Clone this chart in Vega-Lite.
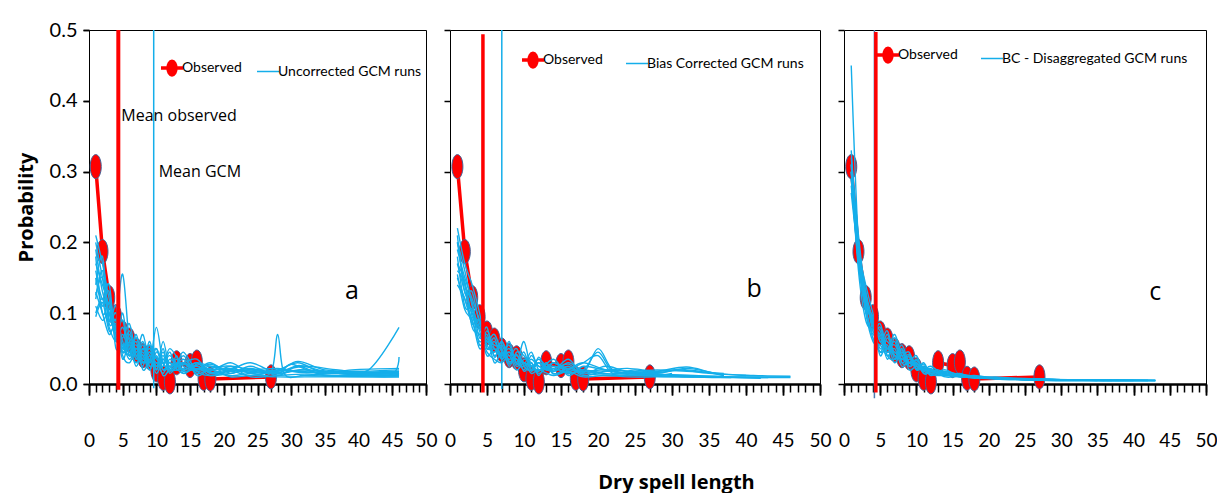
{
  "$schema": "https://vega.github.io/schema/vega-lite/v6.json",
  "padding": {"left": 15, "top": 19, "right": 0, "bottom": 0},
  "background": "white",
  "config": {
    "view": {"stroke": "black", "strokeWidth": 1},
    "axis": {"grid": false, "domainColor": "black", "tickColor": "black", "labelColor": "black", "titleColor": "black", "tickWidth": 1.5, "zindex": 1},
    "legend": {"labelColor": "black", "labelLimit": 600}
  },
  "datasets": {
    "means": [
      {"p": "a", "obs": 4.35, "gcm": 9.6, "tag": "a", "tx": 39, "ty": 0.131},
      {"p": "b", "obs": 4.45, "gcm": 7.0, "tag": "b", "tx": 41.1, "ty": 0.134},
      {"p": "c", "obs": 4.4, "gcm": 4.2, "tag": "c", "tx": 43.0, "ty": 0.13}
    ],
    "obs": [
      {"x": 1, "y": 0.307}, {"x": 2, "y": 0.187}, {"x": 3, "y": 0.122}, {"x": 4, "y": 0.095},
      {"x": 5, "y": 0.072}, {"x": 6, "y": 0.062}, {"x": 7, "y": 0.048}, {"x": 8, "y": 0.04},
      {"x": 9, "y": 0.037}, {"x": 10, "y": 0.02}, {"x": 11, "y": 0.008}, {"x": 12, "y": 0.003},
      {"x": 13, "y": 0.03}, {"x": 15, "y": 0.026}, {"x": 16, "y": 0.031}, {"x": 17, "y": 0.008},
      {"x": 18, "y": 0.007}, {"x": 27, "y": 0.01}
    ],
    "ga": [
      {"r":1,"x":1,"y":0.21},{"r":1,"x":2,"y":0.17},{"r":1,"x":3,"y":0.12},{"r":1,"x":4,"y":0.09},{"r":1,"x":5,"y":0.155},{"r":1,"x":6,"y":0.06},{"r":1,"x":7,"y":0.05},{"r":1,"x":8,"y":0.04},{"r":1,"x":9,"y":0.045},{"r":1,"x":10,"y":0.03},{"r":1,"x":11,"y":0.035},{"r":1,"x":12,"y":0.025},{"r":1,"x":14,"y":0.03},{"r":1,"x":16,"y":0.02},{"r":1,"x":18,"y":0.025},{"r":1,"x":21,"y":0.02},{"r":1,"x":24,"y":0.018},{"r":1,"x":28,"y":0.015},{"r":1,"x":32,"y":0.02},{"r":1,"x":37,"y":0.015},{"r":1,"x":42,"y":0.012},{"r":1,"x":46,"y":0.012},
      {"r":2,"x":1,"y":0.19},{"r":2,"x":2,"y":0.13},{"r":2,"x":3,"y":0.1},{"r":2,"x":4,"y":0.07},{"r":2,"x":5,"y":0.05},{"r":2,"x":6,"y":0.075},{"r":2,"x":7,"y":0.04},{"r":2,"x":8,"y":0.06},{"r":2,"x":9,"y":0.03},{"r":2,"x":10,"y":0.08},{"r":2,"x":11,"y":0.03},{"r":2,"x":12,"y":0.04},{"r":2,"x":14,"y":0.02},{"r":2,"x":16,"y":0.03},{"r":2,"x":18,"y":0.015},{"r":2,"x":21,"y":0.025},{"r":2,"x":24,"y":0.02},{"r":2,"x":28,"y":0.018},{"r":2,"x":32,"y":0.025},{"r":2,"x":37,"y":0.02},{"r":2,"x":41.5,"y":0.02},{"r":2,"x":46,"y":0.08},
      {"r":3,"x":1,"y":0.12},{"r":3,"x":2,"y":0.16},{"r":3,"x":3,"y":0.09},{"r":3,"x":4,"y":0.1},{"r":3,"x":5,"y":0.06},{"r":3,"x":6,"y":0.04},{"r":3,"x":7,"y":0.065},{"r":3,"x":8,"y":0.035},{"r":3,"x":9,"y":0.05},{"r":3,"x":10,"y":0.025},{"r":3,"x":11,"y":0.045},{"r":3,"x":12,"y":0.02},{"r":3,"x":14,"y":0.035},{"r":3,"x":16,"y":0.015},{"r":3,"x":18,"y":0.02},{"r":3,"x":21,"y":0.012},{"r":3,"x":24,"y":0.015},{"r":3,"x":27,"y":0.016},{"r":3,"x":28,"y":0.07},{"r":3,"x":29,"y":0.014},{"r":3,"x":32,"y":0.012},{"r":3,"x":37,"y":0.011},{"r":3,"x":42,"y":0.01},{"r":3,"x":46,"y":0.01},
      {"r":4,"x":1,"y":0.1},{"r":4,"x":2,"y":0.12},{"r":4,"x":3,"y":0.08},{"r":4,"x":4,"y":0.06},{"r":4,"x":5,"y":0.08},{"r":4,"x":6,"y":0.05},{"r":4,"x":7,"y":0.03},{"r":4,"x":8,"y":0.045},{"r":4,"x":9,"y":0.02},{"r":4,"x":10,"y":0.04},{"r":4,"x":11,"y":0.02},{"r":4,"x":12,"y":0.03},{"r":4,"x":14,"y":0.015},{"r":4,"x":16,"y":0.025},{"r":4,"x":18,"y":0.012},{"r":4,"x":21,"y":0.018},{"r":4,"x":24,"y":0.012},{"r":4,"x":28,"y":0.02},{"r":4,"x":31,"y":0.03},{"r":4,"x":34,"y":0.018},{"r":4,"x":37,"y":0.015},{"r":4,"x":42,"y":0.015},{"r":4,"x":46,"y":0.015},
      {"r":5,"x":1,"y":0.15},{"r":5,"x":2,"y":0.11},{"r":5,"x":3,"y":0.13},{"r":5,"x":4,"y":0.05},{"r":5,"x":5,"y":0.07},{"r":5,"x":6,"y":0.045},{"r":5,"x":7,"y":0.055},{"r":5,"x":8,"y":0.03},{"r":5,"x":9,"y":0.04},{"r":5,"x":10,"y":0.035},{"r":5,"x":11,"y":0.025},{"r":5,"x":12,"y":0.05},{"r":5,"x":14,"y":0.025},{"r":5,"x":16,"y":0.02},{"r":5,"x":18,"y":0.03},{"r":5,"x":21,"y":0.015},{"r":5,"x":24,"y":0.025},{"r":5,"x":28,"y":0.012},{"r":5,"x":31,"y":0.025},{"r":5,"x":35,"y":0.012},{"r":5,"x":40,"y":0.012},{"r":5,"x":45,"y":0.014},{"r":5,"x":46,"y":0.038},
      {"r":6,"x":1,"y":0.2},{"r":6,"x":2,"y":0.15},{"r":6,"x":3,"y":0.1},{"r":6,"x":4,"y":0.08},{"r":6,"x":5,"y":0.045},{"r":6,"x":6,"y":0.065},{"r":6,"x":7,"y":0.035},{"r":6,"x":8,"y":0.05},{"r":6,"x":9,"y":0.025},{"r":6,"x":10,"y":0.03},{"r":6,"x":11,"y":0.015},{"r":6,"x":12,"y":0.035},{"r":6,"x":14,"y":0.018},{"r":6,"x":16,"y":0.022},{"r":6,"x":18,"y":0.018},{"r":6,"x":21,"y":0.03},{"r":6,"x":24,"y":0.015},{"r":6,"x":28,"y":0.018},{"r":6,"x":31,"y":0.032},{"r":6,"x":35,"y":0.02},{"r":6,"x":40,"y":0.018},{"r":6,"x":46,"y":0.02},
      {"r":7,"x":1,"y":0.13},{"r":7,"x":2,"y":0.1},{"r":7,"x":3,"y":0.07},{"r":7,"x":4,"y":0.085},{"r":7,"x":5,"y":0.04},{"r":7,"x":6,"y":0.03},{"r":7,"x":7,"y":0.045},{"r":7,"x":8,"y":0.025},{"r":7,"x":9,"y":0.06},{"r":7,"x":10,"y":0.02},{"r":7,"x":11,"y":0.05},{"r":7,"x":12,"y":0.015},{"r":7,"x":14,"y":0.04},{"r":7,"x":16,"y":0.012},{"r":7,"x":18,"y":0.02},{"r":7,"x":21,"y":0.01},{"r":7,"x":24,"y":0.012},{"r":7,"x":28,"y":0.01},{"r":7,"x":32,"y":0.01},{"r":7,"x":37,"y":0.01},{"r":7,"x":42,"y":0.01},{"r":7,"x":46,"y":0.01},
      {"r":8,"x":1,"y":0.17},{"r":8,"x":2,"y":0.14},{"r":8,"x":3,"y":0.11},{"r":8,"x":4,"y":0.07},{"r":8,"x":5,"y":0.09},{"r":8,"x":6,"y":0.04},{"r":8,"x":7,"y":0.06},{"r":8,"x":8,"y":0.02},{"r":8,"x":9,"y":0.035},{"r":8,"x":10,"y":0.05},{"r":8,"x":11,"y":0.02},{"r":8,"x":12,"y":0.025},{"r":8,"x":14,"y":0.03},{"r":8,"x":16,"y":0.035},{"r":8,"x":18,"y":0.015},{"r":8,"x":21,"y":0.02},{"r":8,"x":24,"y":0.03},{"r":8,"x":28,"y":0.015},{"r":8,"x":30,"y":0.028},{"r":8,"x":34,"y":0.015},{"r":8,"x":39,"y":0.02},{"r":8,"x":46,"y":0.022},
      {"r":9,"x":1,"y":0.14},{"r":9,"x":2,"y":0.18},{"r":9,"x":3,"y":0.09},{"r":9,"x":4,"y":0.11},{"r":9,"x":5,"y":0.05},{"r":9,"x":6,"y":0.07},{"r":9,"x":7,"y":0.04},{"r":9,"x":8,"y":0.03},{"r":9,"x":9,"y":0.045},{"r":9,"x":10,"y":0.025},{"r":9,"x":11,"y":0.04},{"r":9,"x":12,"y":0.02},{"r":9,"x":14,"y":0.022},{"r":9,"x":16,"y":0.03},{"r":9,"x":18,"y":0.025},{"r":9,"x":21,"y":0.02},{"r":9,"x":24,"y":0.02},{"r":9,"x":28,"y":0.022},{"r":9,"x":31,"y":0.018},{"r":9,"x":36,"y":0.015},{"r":9,"x":41,"y":0.014},{"r":9,"x":46,"y":0.014},
      {"r":10,"x":1,"y":0.11},{"r":10,"x":2,"y":0.09},{"r":10,"x":3,"y":0.1},{"r":10,"x":4,"y":0.065},{"r":10,"x":5,"y":0.055},{"r":10,"x":6,"y":0.035},{"r":10,"x":7,"y":0.05},{"r":10,"x":8,"y":0.04},{"r":10,"x":9,"y":0.02},{"r":10,"x":10,"y":0.045},{"r":10,"x":11,"y":0.03},{"r":10,"x":12,"y":0.018},{"r":10,"x":14,"y":0.028},{"r":10,"x":16,"y":0.018},{"r":10,"x":18,"y":0.022},{"r":10,"x":21,"y":0.025},{"r":10,"x":24,"y":0.01},{"r":10,"x":28,"y":0.012},{"r":10,"x":32,"y":0.014},{"r":10,"x":37,"y":0.012},{"r":10,"x":42,"y":0.012},{"r":10,"x":46,"y":0.012},
      {"r":11,"x":1,"y":0.16},{"r":11,"x":2,"y":0.12},{"r":11,"x":3,"y":0.14},{"r":11,"x":4,"y":0.06},{"r":11,"x":5,"y":0.1},{"r":11,"x":6,"y":0.04},{"r":11,"x":7,"y":0.07},{"r":11,"x":8,"y":0.03},{"r":11,"x":9,"y":0.055},{"r":11,"x":10,"y":0.02},{"r":11,"x":11,"y":0.06},{"r":11,"x":12,"y":0.02},{"r":11,"x":13,"y":0.04},{"r":11,"x":14,"y":0.015},{"r":11,"x":16,"y":0.028},{"r":11,"x":18,"y":0.02},{"r":11,"x":21,"y":0.022},{"r":11,"x":24,"y":0.016},{"r":11,"x":28,"y":0.02},{"r":11,"x":32,"y":0.016},{"r":11,"x":37,"y":0.018},{"r":11,"x":42,"y":0.016},{"r":11,"x":46,"y":0.016},
      {"r":12,"x":1,"y":0.18},{"r":12,"x":2,"y":0.1},{"r":12,"x":3,"y":0.115},{"r":12,"x":4,"y":0.075},{"r":12,"x":5,"y":0.065},{"r":12,"x":6,"y":0.085},{"r":12,"x":7,"y":0.045},{"r":12,"x":8,"y":0.07},{"r":12,"x":9,"y":0.03},{"r":12,"x":10,"y":0.05},{"r":12,"x":11,"y":0.028},{"r":12,"x":12,"y":0.045},{"r":12,"x":13,"y":0.02},{"r":12,"x":14,"y":0.03},{"r":12,"x":16,"y":0.02},{"r":12,"x":18,"y":0.028},{"r":12,"x":21,"y":0.018},{"r":12,"x":24,"y":0.022},{"r":12,"x":28,"y":0.014},{"r":12,"x":31,"y":0.02},{"r":12,"x":36,"y":0.017},{"r":12,"x":41,"y":0.015},{"r":12,"x":46,"y":0.015},
      {"r":13,"x":1,"y":0.125},{"r":13,"x":2,"y":0.15},{"r":13,"x":3,"y":0.085},{"r":13,"x":4,"y":0.09},{"r":13,"x":5,"y":0.045},{"r":13,"x":6,"y":0.055},{"r":13,"x":7,"y":0.025},{"r":13,"x":8,"y":0.05},{"r":13,"x":9,"y":0.04},{"r":13,"x":10,"y":0.015},{"r":13,"x":11,"y":0.035},{"r":13,"x":12,"y":0.03},{"r":13,"x":13,"y":0.025},{"r":13,"x":14,"y":0.045},{"r":13,"x":16,"y":0.018},{"r":13,"x":18,"y":0.012},{"r":13,"x":21,"y":0.015},{"r":13,"x":24,"y":0.02},{"r":13,"x":28,"y":0.016},{"r":13,"x":31,"y":0.026},{"r":13,"x":34,"y":0.02},{"r":13,"x":38,"y":0.014},{"r":13,"x":43,"y":0.013},{"r":13,"x":46,"y":0.013},
      {"r":14,"x":1,"y":0.095},{"r":14,"x":2,"y":0.115},{"r":14,"x":3,"y":0.075},{"r":14,"x":4,"y":0.08},{"r":14,"x":5,"y":0.035},{"r":14,"x":6,"y":0.06},{"r":14,"x":7,"y":0.035},{"r":14,"x":8,"y":0.055},{"r":14,"x":9,"y":0.025},{"r":14,"x":10,"y":0.038},{"r":14,"x":11,"y":0.012},{"r":14,"x":12,"y":0.022},{"r":14,"x":13,"y":0.035},{"r":14,"x":14,"y":0.02},{"r":14,"x":16,"y":0.026},{"r":14,"x":18,"y":0.016},{"r":14,"x":21,"y":0.02},{"r":14,"x":24,"y":0.016},{"r":14,"x":28,"y":0.019},{"r":14,"x":32,"y":0.017},{"r":14,"x":37,"y":0.016},{"r":14,"x":42,"y":0.017},{"r":14,"x":46,"y":0.018}
    ],
    "gb": [
      {"r":1,"x":1,"y":0.2},{"r":1,"x":2,"y":0.16},{"r":1,"x":3,"y":0.11},{"r":1,"x":4,"y":0.08},{"r":1,"x":5,"y":0.06},{"r":1,"x":6,"y":0.07},{"r":1,"x":7,"y":0.045},{"r":1,"x":8,"y":0.035},{"r":1,"x":9,"y":0.04},{"r":1,"x":10,"y":0.03},{"r":1,"x":11,"y":0.025},{"r":1,"x":12,"y":0.02},{"r":1,"x":14,"y":0.025},{"r":1,"x":16,"y":0.02},{"r":1,"x":18,"y":0.018},{"r":1,"x":21,"y":0.02},{"r":1,"x":24,"y":0.018},{"r":1,"x":28,"y":0.016},{"r":1,"x":32,"y":0.02},{"r":1,"x":37,"y":0.012},
      {"r":2,"x":1,"y":0.22},{"r":2,"x":2,"y":0.17},{"r":2,"x":3,"y":0.14},{"r":2,"x":4,"y":0.1},{"r":2,"x":5,"y":0.05},{"r":2,"x":6,"y":0.06},{"r":2,"x":7,"y":0.04},{"r":2,"x":8,"y":0.055},{"r":2,"x":9,"y":0.03},{"r":2,"x":10,"y":0.06},{"r":2,"x":11,"y":0.02},{"r":2,"x":12,"y":0.03},{"r":2,"x":14,"y":0.02},{"r":2,"x":16,"y":0.035},{"r":2,"x":18,"y":0.015},{"r":2,"x":20,"y":0.05},{"r":2,"x":22,"y":0.02},{"r":2,"x":25,"y":0.015},{"r":2,"x":28,"y":0.014},{"r":2,"x":33,"y":0.012},{"r":2,"x":39,"y":0.01},{"r":2,"x":46,"y":0.01},
      {"r":3,"x":1,"y":0.17},{"r":3,"x":2,"y":0.13},{"r":3,"x":3,"y":0.1},{"r":3,"x":4,"y":0.075},{"r":3,"x":5,"y":0.04},{"r":3,"x":6,"y":0.05},{"r":3,"x":7,"y":0.035},{"r":3,"x":8,"y":0.045},{"r":3,"x":9,"y":0.025},{"r":3,"x":10,"y":0.035},{"r":3,"x":11,"y":0.03},{"r":3,"x":12,"y":0.015},{"r":3,"x":14,"y":0.03},{"r":3,"x":16,"y":0.015},{"r":3,"x":18,"y":0.02},{"r":3,"x":21,"y":0.015},{"r":3,"x":24,"y":0.012},{"r":3,"x":28,"y":0.014},{"r":3,"x":32,"y":0.01},{"r":3,"x":36,"y":0.01},{"r":3,"x":42,"y":0.008},
      {"r":4,"x":1,"y":0.15},{"r":4,"x":2,"y":0.12},{"r":4,"x":3,"y":0.09},{"r":4,"x":4,"y":0.06},{"r":4,"x":5,"y":0.07},{"r":4,"x":6,"y":0.04},{"r":4,"x":7,"y":0.055},{"r":4,"x":8,"y":0.03},{"r":4,"x":9,"y":0.035},{"r":4,"x":10,"y":0.02},{"r":4,"x":11,"y":0.04},{"r":4,"x":12,"y":0.025},{"r":4,"x":14,"y":0.018},{"r":4,"x":16,"y":0.025},{"r":4,"x":18,"y":0.012},{"r":4,"x":21,"y":0.018},{"r":4,"x":24,"y":0.015},{"r":4,"x":28,"y":0.012},{"r":4,"x":30,"y":0.015},
      {"r":5,"x":1,"y":0.19},{"r":5,"x":2,"y":0.15},{"r":5,"x":3,"y":0.12},{"r":5,"x":4,"y":0.09},{"r":5,"x":5,"y":0.055},{"r":5,"x":6,"y":0.045},{"r":5,"x":7,"y":0.06},{"r":5,"x":8,"y":0.04},{"r":5,"x":9,"y":0.05},{"r":5,"x":10,"y":0.025},{"r":5,"x":11,"y":0.02},{"r":5,"x":12,"y":0.035},{"r":5,"x":14,"y":0.015},{"r":5,"x":16,"y":0.02},{"r":5,"x":18,"y":0.03},{"r":5,"x":20,"y":0.04},{"r":5,"x":22,"y":0.015},{"r":5,"x":25,"y":0.02},{"r":5,"x":28,"y":0.015},{"r":5,"x":32,"y":0.022},{"r":5,"x":37,"y":0.012},
      {"r":6,"x":1,"y":0.16},{"r":6,"x":2,"y":0.14},{"r":6,"x":3,"y":0.08},{"r":6,"x":4,"y":0.07},{"r":6,"x":5,"y":0.045},{"r":6,"x":6,"y":0.035},{"r":6,"x":7,"y":0.03},{"r":6,"x":8,"y":0.04},{"r":6,"x":9,"y":0.02},{"r":6,"x":10,"y":0.03},{"r":6,"x":11,"y":0.015},{"r":6,"x":12,"y":0.02},{"r":6,"x":14,"y":0.012},{"r":6,"x":16,"y":0.018},{"r":6,"x":18,"y":0.01},{"r":6,"x":21,"y":0.012},{"r":6,"x":24,"y":0.01},{"r":6,"x":28,"y":0.01},{"r":6,"x":32,"y":0.01},{"r":6,"x":38,"y":0.009},{"r":6,"x":46,"y":0.009},
      {"r":7,"x":1,"y":0.21},{"r":7,"x":2,"y":0.13},{"r":7,"x":3,"y":0.13},{"r":7,"x":4,"y":0.085},{"r":7,"x":5,"y":0.065},{"r":7,"x":6,"y":0.055},{"r":7,"x":7,"y":0.05},{"r":7,"x":8,"y":0.025},{"r":7,"x":9,"y":0.045},{"r":7,"x":10,"y":0.04},{"r":7,"x":11,"y":0.025},{"r":7,"x":12,"y":0.018},{"r":7,"x":14,"y":0.035},{"r":7,"x":16,"y":0.012},{"r":7,"x":18,"y":0.025},{"r":7,"x":21,"y":0.02},{"r":7,"x":24,"y":0.022},{"r":7,"x":28,"y":0.018},{"r":7,"x":31,"y":0.02},{"r":7,"x":35,"y":0.015},{"r":7,"x":40,"y":0.012},
      {"r":8,"x":1,"y":0.18},{"r":8,"x":2,"y":0.11},{"r":8,"x":3,"y":0.105},{"r":8,"x":4,"y":0.055},{"r":8,"x":5,"y":0.075},{"r":8,"x":6,"y":0.05},{"r":8,"x":7,"y":0.04},{"r":8,"x":8,"y":0.05},{"r":8,"x":9,"y":0.03},{"r":8,"x":10,"y":0.025},{"r":8,"x":11,"y":0.035},{"r":8,"x":12,"y":0.025},{"r":8,"x":14,"y":0.022},{"r":8,"x":16,"y":0.028},{"r":8,"x":18,"y":0.014},{"r":8,"x":21,"y":0.025},{"r":8,"x":24,"y":0.018},{"r":8,"x":28,"y":0.02},{"r":8,"x":32,"y":0.018},{"r":8,"x":37,"y":0.015},
      {"r":9,"x":1,"y":0.14},{"r":9,"x":2,"y":0.12},{"r":9,"x":3,"y":0.085},{"r":9,"x":4,"y":0.09},{"r":9,"x":5,"y":0.05},{"r":9,"x":6,"y":0.065},{"r":9,"x":7,"y":0.035},{"r":9,"x":8,"y":0.06},{"r":9,"x":9,"y":0.028},{"r":9,"x":10,"y":0.045},{"r":9,"x":11,"y":0.018},{"r":9,"x":12,"y":0.038},{"r":9,"x":13,"y":0.02},{"r":9,"x":14,"y":0.03},{"r":9,"x":16,"y":0.022},{"r":9,"x":18,"y":0.03},{"r":9,"x":21,"y":0.02},{"r":9,"x":24,"y":0.015},{"r":9,"x":28,"y":0.012},{"r":9,"x":33,"y":0.01},{"r":9,"x":38,"y":0.009},
      {"r":10,"x":1,"y":0.2},{"r":10,"x":2,"y":0.14},{"r":10,"x":3,"y":0.115},{"r":10,"x":4,"y":0.065},{"r":10,"x":5,"y":0.08},{"r":10,"x":6,"y":0.038},{"r":10,"x":7,"y":0.06},{"r":10,"x":8,"y":0.032},{"r":10,"x":9,"y":0.04},{"r":10,"x":10,"y":0.028},{"r":10,"x":11,"y":0.045},{"r":10,"x":12,"y":0.02},{"r":10,"x":13,"y":0.03},{"r":10,"x":14,"y":0.018},{"r":10,"x":16,"y":0.03},{"r":10,"x":18,"y":0.02},{"r":10,"x":20,"y":0.045},{"r":10,"x":22,"y":0.018},{"r":10,"x":25,"y":0.016},{"r":10,"x":29,"y":0.013},{"r":10,"x":34,"y":0.011},{"r":10,"x":39,"y":0.01},{"r":10,"x":43,"y":0.009},
      {"r":11,"x":1,"y":0.17},{"r":11,"x":2,"y":0.145},{"r":11,"x":3,"y":0.095},{"r":11,"x":4,"y":0.08},{"r":11,"x":5,"y":0.06},{"r":11,"x":6,"y":0.05},{"r":11,"x":7,"y":0.04},{"r":11,"x":8,"y":0.045},{"r":11,"x":9,"y":0.035},{"r":11,"x":10,"y":0.03},{"r":11,"x":11,"y":0.025},{"r":11,"x":12,"y":0.03},{"r":11,"x":13,"y":0.02},{"r":11,"x":14,"y":0.022},{"r":11,"x":16,"y":0.016},{"r":11,"x":18,"y":0.018},{"r":11,"x":21,"y":0.014},{"r":11,"x":24,"y":0.016},{"r":11,"x":28,"y":0.018},{"r":11,"x":32,"y":0.024},{"r":11,"x":36,"y":0.015},{"r":11,"x":41,"y":0.012},{"r":11,"x":46,"y":0.011},
      {"r":12,"x":1,"y":0.155},{"r":12,"x":2,"y":0.105},{"r":12,"x":3,"y":0.09},{"r":12,"x":4,"y":0.05},{"r":12,"x":5,"y":0.065},{"r":12,"x":6,"y":0.03},{"r":12,"x":7,"y":0.045},{"r":12,"x":8,"y":0.028},{"r":12,"x":9,"y":0.042},{"r":12,"x":10,"y":0.018},{"r":12,"x":11,"y":0.03},{"r":12,"x":12,"y":0.012},{"r":12,"x":13,"y":0.028},{"r":12,"x":14,"y":0.014},{"r":12,"x":16,"y":0.022},{"r":12,"x":18,"y":0.016},{"r":12,"x":21,"y":0.012},{"r":12,"x":24,"y":0.013},{"r":12,"x":28,"y":0.011},{"r":12,"x":33,"y":0.01}
    ],
    "gc": [
      {"r":1,"x":1,"y":0.45},{"r":1,"x":2,"y":0.2},{"r":1,"x":3,"y":0.13},{"r":1,"x":4,"y":0.09},{"r":1,"x":5,"y":0.06},{"r":1,"x":6,"y":0.05},{"r":1,"x":7,"y":0.04},{"r":1,"x":8,"y":0.035},{"r":1,"x":9,"y":0.03},{"r":1,"x":10,"y":0.025},{"r":1,"x":11,"y":0.02},{"r":1,"x":12,"y":0.018},{"r":1,"x":14,"y":0.014},{"r":1,"x":16,"y":0.012},{"r":1,"x":18,"y":0.01},{"r":1,"x":21,"y":0.008},{"r":1,"x":25,"y":0.007},{"r":1,"x":30,"y":0.006},{"r":1,"x":36,"y":0.005},{"r":1,"x":43,"y":0.005},
      {"r":2,"x":1,"y":0.3},{"r":2,"x":2,"y":0.18},{"r":2,"x":3,"y":0.11},{"r":2,"x":4,"y":0.07},{"r":2,"x":5,"y":0.08},{"r":2,"x":6,"y":0.045},{"r":2,"x":7,"y":0.06},{"r":2,"x":8,"y":0.03},{"r":2,"x":9,"y":0.04},{"r":2,"x":10,"y":0.02},{"r":2,"x":11,"y":0.03},{"r":2,"x":12,"y":0.015},{"r":2,"x":14,"y":0.02},{"r":2,"x":16,"y":0.01},{"r":2,"x":18,"y":0.012},{"r":2,"x":21,"y":0.008},{"r":2,"x":25,"y":0.007},{"r":2,"x":30,"y":0.006},{"r":2,"x":36,"y":0.005},
      {"r":3,"x":1,"y":0.29},{"r":3,"x":2,"y":0.2},{"r":3,"x":3,"y":0.12},{"r":3,"x":4,"y":0.085},{"r":3,"x":5,"y":0.045},{"r":3,"x":6,"y":0.07},{"r":3,"x":7,"y":0.035},{"r":3,"x":8,"y":0.05},{"r":3,"x":9,"y":0.025},{"r":3,"x":10,"y":0.035},{"r":3,"x":11,"y":0.02},{"r":3,"x":12,"y":0.025},{"r":3,"x":14,"y":0.012},{"r":3,"x":16,"y":0.015},{"r":3,"x":18,"y":0.008},{"r":3,"x":21,"y":0.01},{"r":3,"x":25,"y":0.006},{"r":3,"x":30,"y":0.006},{"r":3,"x":36,"y":0.005},{"r":3,"x":43,"y":0.005},
      {"r":4,"x":1,"y":0.31},{"r":4,"x":2,"y":0.17},{"r":4,"x":3,"y":0.1},{"r":4,"x":4,"y":0.06},{"r":4,"x":5,"y":0.055},{"r":4,"x":6,"y":0.04},{"r":4,"x":7,"y":0.05},{"r":4,"x":8,"y":0.025},{"r":4,"x":9,"y":0.035},{"r":4,"x":10,"y":0.03},{"r":4,"x":11,"y":0.015},{"r":4,"x":12,"y":0.02},{"r":4,"x":14,"y":0.015},{"r":4,"x":16,"y":0.01},{"r":4,"x":18,"y":0.01},{"r":4,"x":21,"y":0.007},{"r":4,"x":25,"y":0.006},{"r":4,"x":30,"y":0.005},{"r":4,"x":36,"y":0.005},{"r":4,"x":40,"y":0.005},
      {"r":5,"x":1,"y":0.28},{"r":5,"x":2,"y":0.19},{"r":5,"x":3,"y":0.14},{"r":5,"x":4,"y":0.1},{"r":5,"x":5,"y":0.065},{"r":5,"x":6,"y":0.06},{"r":5,"x":7,"y":0.045},{"r":5,"x":8,"y":0.04},{"r":5,"x":9,"y":0.045},{"r":5,"x":10,"y":0.02},{"r":5,"x":11,"y":0.025},{"r":5,"x":12,"y":0.012},{"r":5,"x":14,"y":0.018},{"r":5,"x":16,"y":0.012},{"r":5,"x":18,"y":0.01},{"r":5,"x":21,"y":0.009},{"r":5,"x":25,"y":0.008},{"r":5,"x":30,"y":0.006},{"r":5,"x":36,"y":0.006},{"r":5,"x":43,"y":0.005},
      {"r":6,"x":1,"y":0.3},{"r":6,"x":2,"y":0.16},{"r":6,"x":3,"y":0.09},{"r":6,"x":4,"y":0.075},{"r":6,"x":5,"y":0.05},{"r":6,"x":6,"y":0.055},{"r":6,"x":7,"y":0.03},{"r":6,"x":8,"y":0.045},{"r":6,"x":9,"y":0.02},{"r":6,"x":10,"y":0.025},{"r":6,"x":11,"y":0.018},{"r":6,"x":12,"y":0.02},{"r":6,"x":14,"y":0.01},{"r":6,"x":16,"y":0.011},{"r":6,"x":18,"y":0.009},{"r":6,"x":21,"y":0.007},{"r":6,"x":25,"y":0.006},{"r":6,"x":30,"y":0.005},{"r":6,"x":35,"y":0.005},
      {"r":7,"x":1,"y":0.32},{"r":7,"x":2,"y":0.21},{"r":7,"x":3,"y":0.125},{"r":7,"x":4,"y":0.08},{"r":7,"x":5,"y":0.07},{"r":7,"x":6,"y":0.035},{"r":7,"x":7,"y":0.065},{"r":7,"x":8,"y":0.03},{"r":7,"x":9,"y":0.03},{"r":7,"x":10,"y":0.04},{"r":7,"x":11,"y":0.015},{"r":7,"x":12,"y":0.017},{"r":7,"x":14,"y":0.016},{"r":7,"x":16,"y":0.014},{"r":7,"x":18,"y":0.011},{"r":7,"x":21,"y":0.009},{"r":7,"x":25,"y":0.007},{"r":7,"x":30,"y":0.006},{"r":7,"x":36,"y":0.005},{"r":7,"x":42,"y":0.005},
      {"r":8,"x":1,"y":0.27},{"r":8,"x":2,"y":0.18},{"r":8,"x":3,"y":0.11},{"r":8,"x":4,"y":0.09},{"r":8,"x":5,"y":0.04},{"r":8,"x":6,"y":0.065},{"r":8,"x":7,"y":0.04},{"r":8,"x":8,"y":0.035},{"r":8,"x":9,"y":0.038},{"r":8,"x":10,"y":0.022},{"r":8,"x":11,"y":0.028},{"r":8,"x":12,"y":0.014},{"r":8,"x":14,"y":0.012},{"r":8,"x":16,"y":0.013},{"r":8,"x":18,"y":0.01},{"r":8,"x":21,"y":0.008},{"r":8,"x":25,"y":0.007},{"r":8,"x":30,"y":0.006},{"r":8,"x":36,"y":0.006},{"r":8,"x":43,"y":0.005},
      {"r":9,"x":1,"y":0.31},{"r":9,"x":2,"y":0.19},{"r":9,"x":3,"y":0.13},{"r":9,"x":4,"y":0.075},{"r":9,"x":5,"y":0.085},{"r":9,"x":6,"y":0.05},{"r":9,"x":7,"y":0.07},{"r":9,"x":8,"y":0.04},{"r":9,"x":9,"y":0.03},{"r":9,"x":10,"y":0.033},{"r":9,"x":11,"y":0.022},{"r":9,"x":12,"y":0.018},{"r":9,"x":13,"y":0.02},{"r":9,"x":14,"y":0.014},{"r":9,"x":16,"y":0.012},{"r":9,"x":18,"y":0.01},{"r":9,"x":21,"y":0.008},{"r":9,"x":25,"y":0.007},{"r":9,"x":30,"y":0.006},{"r":9,"x":36,"y":0.005},{"r":9,"x":42,"y":0.005},
      {"r":10,"x":1,"y":0.29},{"r":10,"x":2,"y":0.17},{"r":10,"x":3,"y":0.115},{"r":10,"x":4,"y":0.095},{"r":10,"x":5,"y":0.06},{"r":10,"x":6,"y":0.075},{"r":10,"x":7,"y":0.04},{"r":10,"x":8,"y":0.055},{"r":10,"x":9,"y":0.03},{"r":10,"x":10,"y":0.028},{"r":10,"x":11,"y":0.024},{"r":10,"x":12,"y":0.02},{"r":10,"x":13,"y":0.015},{"r":10,"x":14,"y":0.016},{"r":10,"x":16,"y":0.011},{"r":10,"x":18,"y":0.009},{"r":10,"x":21,"y":0.008},{"r":10,"x":25,"y":0.006},{"r":10,"x":30,"y":0.006},{"r":10,"x":37,"y":0.005},
      {"r":11,"x":1,"y":0.3},{"r":11,"x":2,"y":0.2},{"r":11,"x":3,"y":0.105},{"r":11,"x":4,"y":0.065},{"r":11,"x":5,"y":0.045},{"r":11,"x":6,"y":0.05},{"r":11,"x":7,"y":0.055},{"r":11,"x":8,"y":0.035},{"r":11,"x":9,"y":0.042},{"r":11,"x":10,"y":0.026},{"r":11,"x":11,"y":0.02},{"r":11,"x":12,"y":0.022},{"r":11,"x":13,"y":0.014},{"r":11,"x":14,"y":0.012},{"r":11,"x":16,"y":0.012},{"r":11,"x":18,"y":0.01},{"r":11,"x":21,"y":0.008},{"r":11,"x":25,"y":0.007},{"r":11,"x":31,"y":0.006},{"r":11,"x":38,"y":0.005},{"r":11,"x":43,"y":0.005},
      {"r":12,"x":1,"y":0.33},{"r":12,"x":2,"y":0.185},{"r":12,"x":3,"y":0.12},{"r":12,"x":4,"y":0.085},{"r":12,"x":5,"y":0.075},{"r":12,"x":6,"y":0.04},{"r":12,"x":7,"y":0.035},{"r":12,"x":8,"y":0.048},{"r":12,"x":9,"y":0.025},{"r":12,"x":10,"y":0.03},{"r":12,"x":11,"y":0.018},{"r":12,"x":12,"y":0.015},{"r":12,"x":13,"y":0.016},{"r":12,"x":14,"y":0.013},{"r":12,"x":16,"y":0.01},{"r":12,"x":18,"y":0.009},{"r":12,"x":21,"y":0.008},{"r":12,"x":25,"y":0.006},{"r":12,"x":30,"y":0.005},{"r":12,"x":35,"y":0.005}
    ]
  },
  "spacing": 24,
  "bounds": "flush",
  "resolve": {"scale": {"color": "independent"}, "legend": {"color": "independent"}},
  "hconcat": [
    {
      "width": 337, "height": 354,
      "resolve": {"axis": {"x": "independent", "y": "independent"}},
      "layer": [
        {"data": {"name": "obs"}, "mark": {"type": "line", "strokeWidth": 3.5},
         "encoding": {
           "x": {"field": "x", "type": "quantitative", "scale": {"domain": [0, 50], "nice": false, "zero": false},
                 "axis": {"orient": "bottom", "values": [0,5,10,15,20,25,30,35,40,45,50], "tickSize": 11, "domainWidth": 2.5, "labelPadding": 36, "labelFont": "Lato", "labelFontSize": 19, "labelFlush": false, "labelOverlap": false, "labelBound": false, "title": null}},
           "y": {"field": "y", "type": "quantitative", "scale": {"domain": [0, 0.5], "nice": false},
                 "axis": {"orient": "left", "values": [0,0.1,0.2,0.3,0.4,0.5], "format": ".1f", "tickSize": 6, "labelPadding": 6, "labelFont": "Lato", "labelFontSize": 20, "domain": false, "title": "Probability", "titleFont": "Open Sans", "titleFontSize": 20, "titleFontWeight": "bold", "titleAngle": 270, "titleX": -63, "titleY": 177, "titleAlign": "center", "titleBaseline": "middle"}},
           "color": {"datum": "Observed", "type": "nominal",
                     "scale": {"domain": ["Observed", "Uncorrected GCM runs"], "range": ["#ff0000", "#14aeea"]},
                     "legend": {"title": null, "orient": "none", "legendX": 76, "legendY": 31, "direction": "horizontal", "padding": 0, "symbolSize": 484, "symbolType": "stroke", "labelFont": "Lato", "labelFontSize": 14, "labelOffset": 3, "columnPadding": 12,
                       "encode": {"symbols": {"update": {
                         "shape": {"signal": "datum.value === 'Observed' ? 'M-1,0H1M0,-0.62A0.36,0.62,0,1,1,0,0.62A0.36,0.62,0,1,1,0,-0.62Z' : 'stroke'"},
                         "fill": {"signal": "datum.value === 'Observed' ? '#ff0000' : 'transparent'"},
                         "strokeWidth": {"signal": "datum.value === 'Observed' ? 3.5 : 1.5"}}}}}}
         }},
        {"data": {"name": "obs"}, "mark": {"type": "point", "shape": "M0,-1.75A0.8,1.75,0,1,1,0,1.75A0.8,1.75,0,1,1,0,-1.75Z", "size": 190, "filled": true, "fill": "#ff0000", "stroke": "#41669b", "strokeWidth": 1, "opacity": 1},
         "encoding": {"x": {"field": "x", "type": "quantitative", "axis": {"orient": "bottom", "values": [0,5,10,15,20,25,30,35,40,45,50], "tickSize": 11, "labels": false, "domain": false, "title": null}},
                      "y": {"field": "y", "type": "quantitative", "axis": {"orient": "left", "values": [0,0.1,0.2,0.3,0.4,0.5], "tickSize": 6, "labels": false, "domain": false, "title": null}}}},
        {"data": {"name": "ga"}, "mark": {"type": "line", "interpolate": "cardinal", "strokeWidth": 1.4, "clip": true},
         "encoding": {"x": {"field": "x", "type": "quantitative", "axis": null}, "y": {"field": "y", "type": "quantitative", "axis": null},
                      "detail": {"field": "r", "type": "nominal"}, "color": {"datum": "Uncorrected GCM runs", "type": "nominal"}}},
        {"data": {"name": "means"}, "transform": [{"filter": "datum.p === 'a'"}],
         "mark": {"type": "rule", "color": "#ff0000", "strokeWidth": 4},
         "encoding": {"x": {"field": "obs", "type": "quantitative", "axis": {"orient": "bottom", "values": [0,1,2,3,4,5,6,7,8,9,10,11,12,13,14,15,16,17,18,19,20,21,22,23,24,25,26,27,28,29,30,31,32,33,34,35,36,37,38,39,40,41,42,43,44,45,46,47,48,49,50], "tickSize": 8, "labels": false, "domain": false, "title": null}},
                      "y": {"datum": 0.5, "type": "quantitative", "axis": null}, "y2": {"datum": -0.008}}},
        {"data": {"name": "means"}, "transform": [{"filter": "datum.p === 'a'"}],
         "mark": {"type": "rule", "color": "#14aeea", "strokeWidth": 1.5},
         "encoding": {"x": {"field": "gcm", "type": "quantitative", "axis": null}, "y": {"datum": 0.5, "type": "quantitative", "axis": null}, "y2": {"datum": -0.006}}},
        {"data": {"name": "means"}, "transform": [{"filter": "datum.p === 'a'"}],
         "mark": {"type": "text", "text": "Mean observed", "align": "left", "baseline": "middle", "dx": 3, "font": "Open Sans", "fontSize": 16, "color": "black"},
         "encoding": {"x": {"field": "obs", "type": "quantitative", "axis": null}, "y": {"datum": 0.378, "type": "quantitative", "axis": null}}},
        {"data": {"name": "means"}, "transform": [{"filter": "datum.p === 'a'"}],
         "mark": {"type": "text", "text": "Mean GCM", "align": "left", "baseline": "middle", "dx": 5, "font": "Open Sans", "fontSize": 16, "color": "black"},
         "encoding": {"x": {"field": "gcm", "type": "quantitative", "axis": null}, "y": {"datum": 0.299, "type": "quantitative", "axis": null}}},
        {"data": {"name": "means"}, "transform": [{"filter": "datum.p === 'a'"}],
         "mark": {"type": "text", "align": "center", "baseline": "middle", "font": "Open Sans", "fontSize": 25, "color": "black"},
         "encoding": {"x": {"field": "tx", "type": "quantitative", "axis": null}, "y": {"field": "ty", "type": "quantitative", "axis": null}, "text": {"field": "tag"}}}
      ]
    },
    {
      "width": 370, "height": 354,
      "resolve": {"axis": {"x": "independent", "y": "independent"}},
      "layer": [
        {"data": {"name": "obs"}, "mark": {"type": "line", "strokeWidth": 3.5},
         "encoding": {
           "x": {"field": "x", "type": "quantitative", "scale": {"domain": [0, 50], "nice": false, "zero": false},
                 "axis": {"orient": "bottom", "values": [0,5,10,15,20,25,30,35,40,45,50], "tickSize": 11, "domainWidth": 2.5, "labelPadding": 36, "labelFont": "Lato", "labelFontSize": 19, "labelFlush": false, "labelOverlap": false, "labelBound": false,
                          "title": "Dry spell length", "titleFont": "Open Sans", "titleFontSize": 20, "titleFontWeight": "bold", "titleX": 226, "titleY": 98, "titleAlign": "center", "titleBaseline": "middle"}},
           "y": {"field": "y", "type": "quantitative", "scale": {"domain": [0, 0.5], "nice": false},
                 "axis": {"orient": "left", "values": [0,0.1,0.2,0.3,0.4,0.5], "tickSize": 6, "labels": false, "domain": false, "title": null}},
           "color": {"datum": "Observed", "type": "nominal",
                     "scale": {"domain": ["Observed", "Bias Corrected GCM runs"], "range": ["#ff0000", "#14aeea"]},
                     "legend": {"title": null, "orient": "none", "legendX": 76, "legendY": 23, "direction": "horizontal", "padding": 0, "symbolSize": 484, "symbolType": "stroke", "labelFont": "Lato", "labelFontSize": 14, "labelOffset": 3, "columnPadding": 20,
                       "encode": {"symbols": {"update": {
                         "shape": {"signal": "datum.value === 'Observed' ? 'M-1,0H1M0,-0.62A0.36,0.62,0,1,1,0,0.62A0.36,0.62,0,1,1,0,-0.62Z' : 'stroke'"},
                         "fill": {"signal": "datum.value === 'Observed' ? '#ff0000' : 'transparent'"},
                         "strokeWidth": {"signal": "datum.value === 'Observed' ? 3.5 : 1.5"}}}}}}
         }},
        {"data": {"name": "obs"}, "mark": {"type": "point", "shape": "M0,-1.75A0.8,1.75,0,1,1,0,1.75A0.8,1.75,0,1,1,0,-1.75Z", "size": 190, "filled": true, "fill": "#ff0000", "stroke": "#41669b", "strokeWidth": 1, "opacity": 1},
         "encoding": {"x": {"field": "x", "type": "quantitative", "axis": {"orient": "bottom", "values": [0,5,10,15,20,25,30,35,40,45,50], "tickSize": 11, "labels": false, "domain": false, "title": null}},
                      "y": {"field": "y", "type": "quantitative", "axis": null}}},
        {"data": {"name": "gb"}, "mark": {"type": "line", "interpolate": "cardinal", "strokeWidth": 1.4, "clip": true},
         "encoding": {"x": {"field": "x", "type": "quantitative", "axis": null}, "y": {"field": "y", "type": "quantitative", "axis": null},
                      "detail": {"field": "r", "type": "nominal"}, "color": {"datum": "Bias Corrected GCM runs", "type": "nominal"}}},
        {"data": {"name": "means"}, "transform": [{"filter": "datum.p === 'b'"}],
         "mark": {"type": "rule", "color": "#ff0000", "strokeWidth": 3.5},
         "encoding": {"x": {"field": "obs", "type": "quantitative", "axis": {"orient": "bottom", "values": [0,1,2,3,4,5,6,7,8,9,10,11,12,13,14,15,16,17,18,19,20,21,22,23,24,25,26,27,28,29,30,31,32,33,34,35,36,37,38,39,40,41,42,43,44,45,46,47,48,49,50], "tickSize": 8, "labels": false, "domain": false, "title": null}},
                      "y": {"datum": 0.494, "type": "quantitative", "axis": null}, "y2": {"datum": -0.012}}},
        {"data": {"name": "means"}, "transform": [{"filter": "datum.p === 'b'"}],
         "mark": {"type": "rule", "color": "#14aeea", "strokeWidth": 1.5},
         "encoding": {"x": {"field": "gcm", "type": "quantitative", "axis": null}, "y": {"datum": 0.5, "type": "quantitative", "axis": null}, "y2": {"datum": -0.007}}},
        {"data": {"name": "means"}, "transform": [{"filter": "datum.p === 'b'"}],
         "mark": {"type": "text", "align": "center", "baseline": "middle", "font": "Open Sans", "fontSize": 25, "color": "black"},
         "encoding": {"x": {"field": "tx", "type": "quantitative", "axis": null}, "y": {"field": "ty", "type": "quantitative", "axis": null}, "text": {"field": "tag"}}}
      ]
    },
    {
      "width": 362, "height": 354,
      "resolve": {"axis": {"x": "independent", "y": "independent"}},
      "layer": [
        {"data": {"name": "obs"}, "mark": {"type": "line", "strokeWidth": 3.5},
         "encoding": {
           "x": {"field": "x", "type": "quantitative", "scale": {"domain": [0, 50], "nice": false, "zero": false},
                 "axis": {"orient": "bottom", "values": [0,5,10,15,20,25,30,35,40,45,50], "tickSize": 11, "domainWidth": 2.5, "labelPadding": 36, "labelFont": "Lato", "labelFontSize": 19, "labelFlush": false, "labelOverlap": false, "labelBound": false, "title": null}},
           "y": {"field": "y", "type": "quantitative", "scale": {"domain": [0, 0.5], "nice": false},
                 "axis": {"orient": "left", "values": [0,0.1,0.2,0.3,0.4,0.5], "tickSize": 6, "labels": false, "domain": false, "title": null}},
           "color": {"datum": "Observed", "type": "nominal",
                     "scale": {"domain": ["Observed", "BC - Disaggregated GCM runs"], "range": ["#ff0000", "#14aeea"]},
                     "legend": {"title": null, "orient": "none", "legendX": 37, "legendY": 18, "direction": "horizontal", "padding": 0, "symbolSize": 484, "symbolType": "stroke", "labelFont": "Lato", "labelFontSize": 14, "labelOffset": 3, "columnPadding": 20,
                       "encode": {"symbols": {"update": {
                         "shape": {"signal": "datum.value === 'Observed' ? 'M-1,0H1M0,-0.62A0.36,0.62,0,1,1,0,0.62A0.36,0.62,0,1,1,0,-0.62Z' : 'stroke'"},
                         "fill": {"signal": "datum.value === 'Observed' ? '#ff0000' : 'transparent'"},
                         "strokeWidth": {"signal": "datum.value === 'Observed' ? 3.5 : 1.5"}}}}}}
         }},
        {"data": {"name": "obs"}, "mark": {"type": "point", "shape": "M0,-1.75A0.8,1.75,0,1,1,0,1.75A0.8,1.75,0,1,1,0,-1.75Z", "size": 190, "filled": true, "fill": "#ff0000", "stroke": "#41669b", "strokeWidth": 1, "opacity": 1},
         "encoding": {"x": {"field": "x", "type": "quantitative", "axis": {"orient": "bottom", "values": [0,5,10,15,20,25,30,35,40,45,50], "tickSize": 11, "labels": false, "domain": false, "title": null}},
                      "y": {"field": "y", "type": "quantitative", "axis": null}}},
        {"data": {"name": "gc"}, "mark": {"type": "line", "interpolate": "cardinal", "strokeWidth": 1.4, "clip": true},
         "encoding": {"x": {"field": "x", "type": "quantitative", "axis": null}, "y": {"field": "y", "type": "quantitative", "axis": null},
                      "detail": {"field": "r", "type": "nominal"}, "color": {"datum": "BC - Disaggregated GCM runs", "type": "nominal"}}},
        {"data": {"name": "means"}, "transform": [{"filter": "datum.p === 'c'"}],
         "mark": {"type": "rule", "color": "#4f7ab0", "strokeWidth": 1.5},
         "encoding": {"x": {"field": "gcm", "type": "quantitative", "axis": null}, "y": {"datum": 0.5, "type": "quantitative", "axis": null}, "y2": {"datum": -0.02}}},
        {"data": {"name": "means"}, "transform": [{"filter": "datum.p === 'c'"}],
         "mark": {"type": "rule", "color": "#ff0000", "strokeWidth": 3.5},
         "encoding": {"x": {"field": "obs", "type": "quantitative", "axis": {"orient": "bottom", "values": [0,1,2,3,4,5,6,7,8,9,10,11,12,13,14,15,16,17,18,19,20,21,22,23,24,25,26,27,28,29,30,31,32,33,34,35,36,37,38,39,40,41,42,43,44,45,46,47,48,49,50], "tickSize": 8, "labels": false, "domain": false, "title": null}},
                      "y": {"datum": 0.497, "type": "quantitative", "axis": null}, "y2": {"datum": -0.012}}},
        {"data": {"name": "means"}, "transform": [{"filter": "datum.p === 'c'"}],
         "mark": {"type": "text", "align": "center", "baseline": "middle", "font": "Open Sans", "fontSize": 25, "color": "black"},
         "encoding": {"x": {"field": "tx", "type": "quantitative", "axis": null}, "y": {"field": "ty", "type": "quantitative", "axis": null}, "text": {"field": "tag"}}}
      ]
    }
  ]
}
